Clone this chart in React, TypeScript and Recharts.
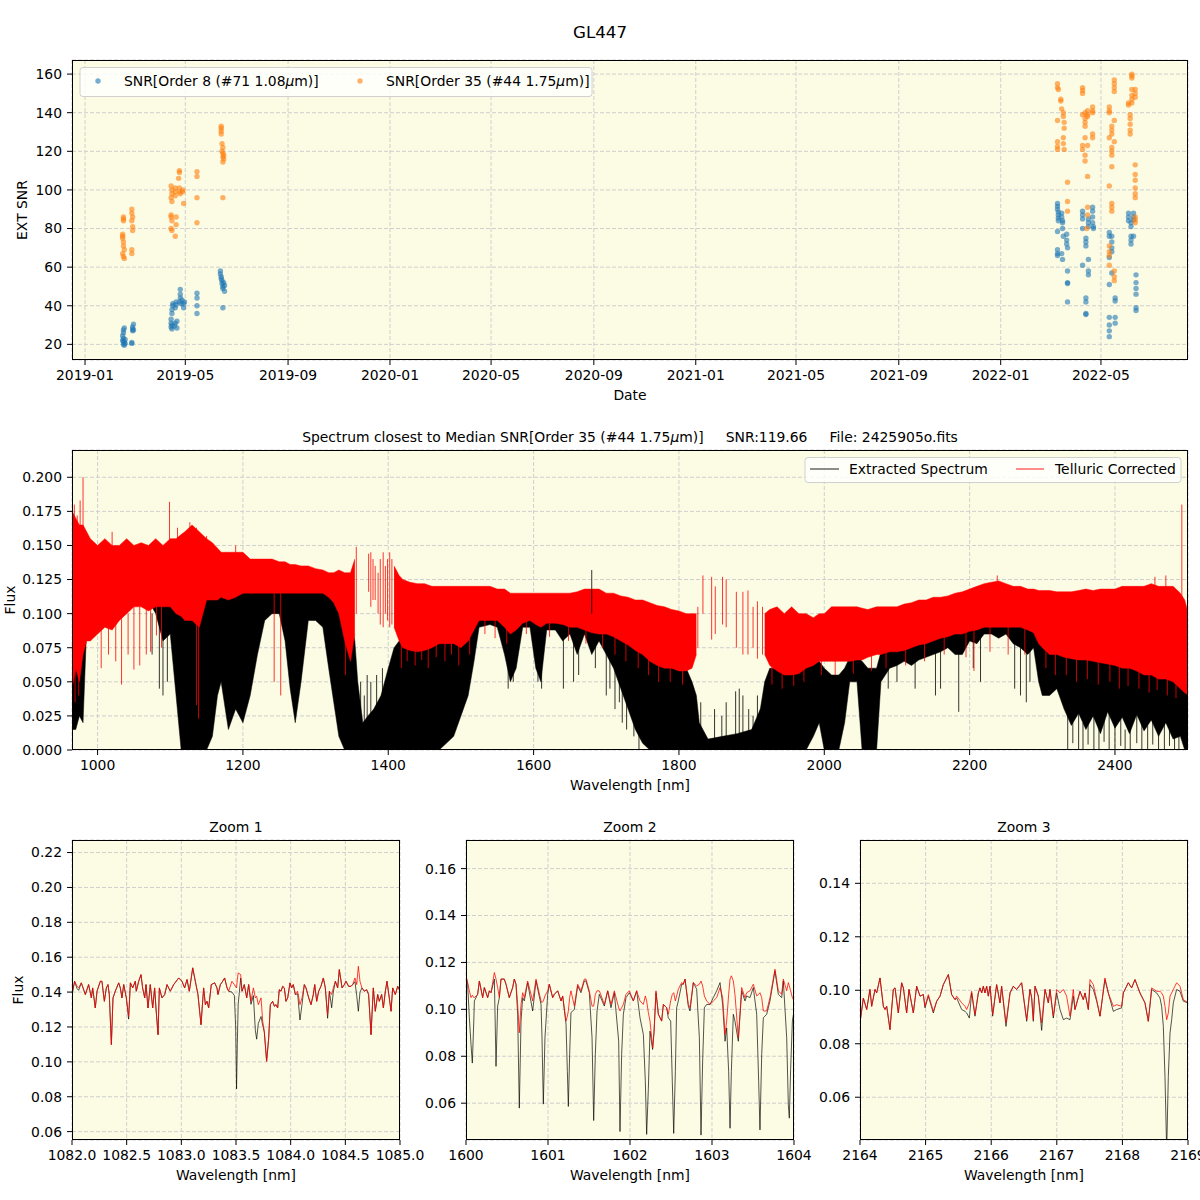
import React from 'react';
import {
  ScatterChart,
  Scatter,
  ComposedChart,
  LineChart,
  Line,
  Area,
  XAxis,
  YAxis,
  CartesianGrid,
} from 'recharts';

const FONT = '"DejaVu Sans", Verdana, sans-serif';
const BG = '#fcfce4';
const GRID = '#cfcfcf';
const BLUE = '#1f77b4';
const ORANGE = '#ff7f0e';
const TICK = { fontSize: 13.9, fill: '#000', fontFamily: FONT };

// ---- SNR time series: [date, SNR] ----
const snrOrder8: [string, number][] = [
  ['2019-02-15', 22], ['2019-02-15', 24.5], ['2019-02-16', 20], ['2019-02-16', 21.5], ['2019-02-16', 23], ['2019-02-16', 26],
  ['2019-02-16', 27.5], ['2019-02-17', 28.5], ['2019-02-17', 19.5], ['2019-02-17', 21], ['2019-02-18', 22.5], ['2019-02-18', 20.5],
  ['2019-02-26', 20.5], ['2019-02-26', 21], ['2019-02-27', 27], ['2019-02-27', 28], ['2019-02-27', 29], ['2019-02-28', 30.5], ['2019-02-28', 27.5],
  ['2019-04-14', 29], ['2019-04-14', 31], ['2019-04-14', 33], ['2019-04-15', 28], ['2019-04-15', 30], ['2019-04-15', 36], ['2019-04-15', 38],
  ['2019-04-16', 40], ['2019-04-16', 41], ['2019-04-18', 29.5], ['2019-04-19', 31], ['2019-04-19', 39], ['2019-04-20', 40.5], ['2019-04-20', 42],
  ['2019-04-21', 28.5], ['2019-04-21', 32], ['2019-04-24', 42], ['2019-04-25', 44], ['2019-04-25', 46], ['2019-04-25', 48.5], ['2019-04-26', 41],
  ['2019-04-27', 43], ['2019-04-29', 39], ['2019-04-29', 41], ['2019-04-30', 42],
  ['2019-05-15', 46.5], ['2019-05-15', 44], ['2019-05-15', 40], ['2019-05-15', 36],
  ['2019-06-12', 58], ['2019-06-12', 56.5], ['2019-06-13', 55], ['2019-06-13', 54], ['2019-06-14', 53], ['2019-06-14', 51.5], ['2019-06-15', 50],
  ['2019-06-15', 49], ['2019-06-16', 52], ['2019-06-15', 39], ['2019-06-17', 47.5], ['2019-06-17', 50.5],
  ['2022-03-10', 93], ['2022-03-10', 91.5], ['2022-03-10', 90], ['2022-03-11', 88.5], ['2022-03-11', 87], ['2022-03-11', 85.5], ['2022-03-11', 84],
  ['2022-03-10', 78.5], ['2022-03-10', 69], ['2022-03-10', 67], ['2022-03-10', 66],
  ['2022-03-15', 88], ['2022-03-15', 86], ['2022-03-16', 84], ['2022-03-16', 83], ['2022-03-16', 80], ['2022-03-15', 67], ['2022-03-16', 64], ['2022-03-17', 76],
  ['2022-03-21', 77], ['2022-03-21', 74], ['2022-03-21', 72], ['2022-03-22', 70], ['2022-03-22', 58], ['2022-03-22', 52], ['2022-03-22', 51.5], ['2022-03-22', 42],
  ['2022-04-09', 89], ['2022-04-09', 87], ['2022-04-09', 85], ['2022-04-09', 80], ['2022-04-09', 61],
  ['2022-04-13', 75], ['2022-04-13', 73], ['2022-04-13', 71], ['2022-04-13', 44], ['2022-04-13', 42], ['2022-04-13', 36], ['2022-04-13', 35.5],
  ['2022-04-16', 85], ['2022-04-16', 83], ['2022-04-16', 81], ['2022-04-16', 64], ['2022-04-16', 58], ['2022-04-16', 56],
  ['2022-04-21', 91], ['2022-04-21', 89], ['2022-04-21', 86], ['2022-04-21', 83], ['2022-04-22', 81], ['2022-04-22', 80],
  ['2022-05-11', 78], ['2022-05-11', 76], ['2022-05-11', 65], ['2022-05-11', 51], ['2022-05-11', 34], ['2022-05-11', 30], ['2022-05-11', 27], ['2022-05-11', 24],
  ['2022-05-14', 76], ['2022-05-14', 73], ['2022-05-14', 70], ['2022-05-14', 68], ['2022-05-14', 57],
  ['2022-05-18', 44], ['2022-05-18', 42.5], ['2022-05-18', 34], ['2022-05-18', 31],
  ['2022-06-03', 88], ['2022-06-03', 86], ['2022-06-03', 84], ['2022-06-06', 83], ['2022-06-06', 81], ['2022-06-06', 76], ['2022-06-06', 74], ['2022-06-06', 72],
  ['2022-06-09', 88], ['2022-06-09', 86], ['2022-06-09', 84.5], ['2022-06-09', 76],
  ['2022-06-12', 56], ['2022-06-12', 52], ['2022-06-12', 49], ['2022-06-12', 46], ['2022-06-12', 39], ['2022-06-12', 37.5],
];

const snrOrder35: [string, number][] = [
  ['2019-02-16', 86], ['2019-02-16', 85], ['2019-02-16', 84], ['2019-02-15', 77], ['2019-02-15', 76], ['2019-02-15', 75], ['2019-02-16', 73],
  ['2019-02-16', 71], ['2019-02-17', 69], ['2019-02-15', 67], ['2019-02-16', 65.5], ['2019-02-17', 64.5],
  ['2019-02-26', 90], ['2019-02-26', 88], ['2019-02-27', 86], ['2019-02-26', 84], ['2019-02-27', 81], ['2019-02-27', 79], ['2019-02-26', 69], ['2019-02-26', 67],
  ['2019-04-14', 87], ['2019-04-14', 86], ['2019-04-15', 84], ['2019-04-14', 80], ['2019-04-15', 79], ['2019-04-14', 102], ['2019-04-15', 100],
  ['2019-04-15', 98], ['2019-04-14', 96], ['2019-04-15', 94],
  ['2019-04-19', 101], ['2019-04-19', 99], ['2019-04-19', 97], ['2019-04-20', 86], ['2019-04-20', 82], ['2019-04-19', 76],
  ['2019-04-24', 110], ['2019-04-24', 109], ['2019-04-23', 106], ['2019-04-24', 101], ['2019-04-24', 99], ['2019-04-25', 98],
  ['2019-04-28', 100], ['2019-04-28', 99], ['2019-04-29', 93],
  ['2019-05-15', 109.5], ['2019-05-15', 107], ['2019-05-15', 96], ['2019-05-15', 83],
  ['2019-06-13', 133], ['2019-06-13', 132], ['2019-06-13', 130.5], ['2019-06-13', 129], ['2019-06-14', 124], ['2019-06-15', 122], ['2019-06-14', 120],
  ['2019-06-15', 119], ['2019-06-16', 118], ['2019-06-15', 117], ['2019-06-16', 116], ['2019-06-15', 114.5], ['2019-06-15', 96],
  ['2022-03-10', 155], ['2022-03-10', 153], ['2022-03-11', 152], ['2022-03-10', 136], ['2022-03-10', 125], ['2022-03-10', 122.5], ['2022-03-10', 121],
  ['2022-03-14', 147], ['2022-03-14', 146], ['2022-03-15', 142], ['2022-03-17', 140], ['2022-03-17', 138], ['2022-03-18', 135], ['2022-03-18', 132],
  ['2022-03-17', 127], ['2022-03-17', 124], ['2022-03-18', 121], ['2022-03-22', 104], ['2022-03-22', 94], ['2022-03-22', 89],
  ['2022-04-09', 153], ['2022-04-09', 151.5], ['2022-04-09', 150], ['2022-04-09', 139], ['2022-04-09', 123], ['2022-04-09', 121],
  ['2022-04-12', 140], ['2022-04-12', 137], ['2022-04-12', 135], ['2022-04-12', 133], ['2022-04-12', 127], ['2022-04-12', 118], ['2022-04-12', 115],
  ['2022-04-15', 141], ['2022-04-15', 139], ['2022-04-15', 138], ['2022-04-15', 123], ['2022-04-15', 107], ['2022-04-15', 91], ['2022-04-15', 87], ['2022-04-14', 80],
  ['2022-04-21', 143], ['2022-04-21', 141], ['2022-04-21', 140], ['2022-04-21', 129], ['2022-04-21', 127],
  ['2022-05-11', 143], ['2022-05-11', 141], ['2022-05-11', 140], ['2022-05-11', 127], ['2022-05-11', 102], ['2022-05-11', 71], ['2022-05-11', 68],
  ['2022-05-11', 66], ['2022-05-11', 61],
  ['2022-05-14', 133], ['2022-05-14', 131], ['2022-05-14', 129], ['2022-05-14', 122], ['2022-05-14', 120], ['2022-05-14', 118], ['2022-05-14', 112],
  ['2022-05-14', 93], ['2022-05-14', 91], ['2022-05-14', 89],
  ['2022-05-17', 157], ['2022-05-17', 155], ['2022-05-17', 153], ['2022-05-17', 151], ['2022-05-17', 136], ['2022-05-17', 125], ['2022-05-17', 58],
  ['2022-05-17', 55], ['2022-05-17', 53],
  ['2022-06-03', 145], ['2022-06-03', 144], ['2022-06-05', 139], ['2022-06-05', 137], ['2022-06-05', 134], ['2022-06-05', 131], ['2022-06-05', 129],
  ['2022-06-07', 160], ['2022-06-07', 159], ['2022-06-07', 158], ['2022-06-07', 152], ['2022-06-07', 149], ['2022-06-07', 147], ['2022-06-07', 145],
  ['2022-06-11', 152], ['2022-06-11', 150], ['2022-06-11', 148], ['2022-06-11', 113], ['2022-06-11', 108], ['2022-06-11', 105], ['2022-06-11', 101],
  ['2022-06-11', 98], ['2022-06-11', 96], ['2022-06-11', 86], ['2022-06-11', 84.5], ['2022-06-11', 83],
];

const dateTicks = [
  '2019-01-01', '2019-05-01', '2019-09-01', '2020-01-01', '2020-05-01', '2020-09-01',
  '2021-01-01', '2021-05-01', '2021-09-01', '2022-01-01', '2022-05-01',
];
const snrTicks = [20, 40, 60, 80, 100, 120, 140, 160];

// ---- full spectrum: [wl, red low, red high, black low, black high] envelopes ----
type Band = [number, number | null, number | null, number, number];
const spectrumBands: Band[] = [
  [965, 0.045, 0.175, 0.015, 0.14], [970, 0.06, 0.17, 0.015, 0.14], [975, 0.05, 0.165, 0.025, 0.13], [980, 0.07, 0.165, 0.02, 0.13],
  [985, 0.08, 0.16, 0.09, 0.13], [990, 0.08, 0.155, 0.105, 0.13], [1000, 0.085, 0.15, 0.105, 0.13], [1010, 0.09, 0.155, 0.11, 0.13],
  [1020, 0.088, 0.15, 0.11, 0.13], [1030, 0.095, 0.15, 0.112, 0.13], [1040, 0.1, 0.155, 0.112, 0.13], [1050, 0.105, 0.15, 0.115, 0.13],
  [1060, 0.105, 0.152, 0.115, 0.13], [1070, 0.102, 0.15, 0.11, 0.13], [1080, 0.105, 0.155, 0.1, 0.13], [1090, 0.105, 0.15, 0.08, 0.13],
  [1100, 0.105, 0.155, 0.085, 0.13], [1108, 0.1, 0.155, 0.04, 0.125], [1115, 0.098, 0.158, 0.0, 0.125], [1120, 0.095, 0.16, 0.0, 0.125],
  [1130, 0.095, 0.165, 0.0, 0.125], [1140, 0.09, 0.16, 0.0, 0.125], [1150, 0.11, 0.155, 0.0, 0.125], [1158, 0.11, 0.152, 0.01, 0.125],
  [1165, 0.11, 0.148, 0.04, 0.125], [1170, 0.112, 0.145, 0.05, 0.125], [1180, 0.11, 0.145, 0.015, 0.125], [1190, 0.112, 0.145, 0.03, 0.125],
  [1200, 0.115, 0.145, 0.02, 0.125], [1210, 0.115, 0.14, 0.04, 0.125], [1220, 0.115, 0.14, 0.07, 0.125], [1230, 0.115, 0.14, 0.095, 0.12],
  [1240, 0.115, 0.14, 0.1, 0.12], [1250, 0.115, 0.138, 0.1, 0.12], [1258, 0.115, 0.138, 0.08, 0.12], [1265, 0.115, 0.136, 0.045, 0.12],
  [1272, 0.115, 0.136, 0.02, 0.12], [1280, 0.115, 0.135, 0.05, 0.12], [1290, 0.115, 0.135, 0.095, 0.12], [1300, 0.115, 0.133, 0.095, 0.12],
  [1310, 0.115, 0.132, 0.09, 0.12], [1318, 0.112, 0.13, 0.06, 0.12], [1325, 0.108, 0.13, 0.035, 0.115], [1332, 0.1, 0.132, 0.01, 0.11],
  [1340, 0.08, 0.13, 0.0, 0.105], [1348, 0.065, 0.13, 0.0, 0.1], [1354, 0.085, 0.14, 0.0, 0.08], [1358, null, null, 0.0, 0.05],
  [1365, null, null, 0.0, 0.02], [1372, null, null, 0.0, 0.025], [1380, null, null, 0.0, 0.03], [1390, null, null, 0.0, 0.04],
  [1400, null, null, 0.0, 0.06], [1408, 0.09, 0.135, 0.0, 0.075], [1415, 0.08, 0.128, 0.0, 0.08], [1420, 0.075, 0.125, 0.0, 0.08],
  [1430, 0.073, 0.123, 0.0, 0.08], [1440, 0.072, 0.122, 0.0, 0.08], [1450, 0.073, 0.122, 0.0, 0.078], [1460, 0.075, 0.12, 0.0, 0.08],
  [1470, 0.078, 0.12, 0.0, 0.08], [1480, 0.078, 0.12, 0.005, 0.08], [1490, 0.078, 0.12, 0.01, 0.08], [1500, 0.075, 0.12, 0.025, 0.085],
  [1510, 0.08, 0.12, 0.04, 0.09], [1518, 0.088, 0.12, 0.065, 0.1], [1525, 0.095, 0.12, 0.09, 0.105], [1540, 0.095, 0.12, 0.092, 0.105],
  [1550, 0.095, 0.118, 0.09, 0.105], [1560, 0.09, 0.118, 0.07, 0.105], [1568, 0.085, 0.115, 0.05, 0.1], [1576, 0.088, 0.115, 0.06, 0.1],
  [1585, 0.093, 0.115, 0.09, 0.105], [1595, 0.095, 0.115, 0.09, 0.105], [1603, 0.092, 0.115, 0.06, 0.1], [1610, 0.09, 0.115, 0.05, 0.1],
  [1618, 0.093, 0.115, 0.088, 0.1], [1630, 0.093, 0.115, 0.088, 0.1], [1640, 0.092, 0.115, 0.08, 0.1], [1650, 0.09, 0.115, 0.085, 0.1],
  [1660, 0.09, 0.116, 0.07, 0.1], [1670, 0.088, 0.118, 0.085, 0.1], [1680, 0.086, 0.118, 0.07, 0.1], [1690, 0.085, 0.118, 0.08, 0.1],
  [1700, 0.085, 0.115, 0.07, 0.1], [1710, 0.083, 0.115, 0.06, 0.1], [1720, 0.08, 0.113, 0.045, 0.095], [1730, 0.077, 0.112, 0.03, 0.09],
  [1740, 0.073, 0.11, 0.015, 0.085], [1750, 0.07, 0.11, 0.005, 0.08], [1760, 0.065, 0.108, 0.0, 0.075], [1770, 0.062, 0.106, 0.0, 0.07],
  [1780, 0.06, 0.105, 0.0, 0.065], [1790, 0.06, 0.103, 0.0, 0.062], [1800, 0.058, 0.102, 0.0, 0.06], [1810, 0.058, 0.1, 0.0, 0.06],
  [1818, 0.06, 0.1, 0.0, 0.05], [1824, 0.07, 0.1, 0.0, 0.04], [1828, null, null, 0.0, 0.02], [1840, null, null, 0.0, 0.008],
  [1860, null, null, 0.0, 0.01], [1880, null, null, 0.0, 0.012], [1900, null, null, 0.0, 0.015], [1912, null, null, 0.0, 0.03],
  [1918, 0.07, 0.1, 0.0, 0.05], [1925, 0.062, 0.103, 0.0, 0.06], [1935, 0.058, 0.105, 0.0, 0.06], [1945, 0.055, 0.1, 0.0, 0.06],
  [1955, 0.055, 0.105, 0.0, 0.06], [1965, 0.056, 0.1, 0.0, 0.065], [1975, 0.06, 0.1, 0.0, 0.065], [1985, 0.062, 0.097, 0.01, 0.065],
  [1993, 0.065, 0.1, 0.02, 0.065], [2000, 0.065, 0.1, 0.0, 0.06], [2010, 0.065, 0.105, 0.0, 0.055], [2020, 0.065, 0.105, 0.0, 0.055],
  [2028, 0.065, 0.105, 0.02, 0.06], [2035, 0.065, 0.105, 0.05, 0.068], [2045, 0.066, 0.105, 0.05, 0.068], [2052, 0.066, 0.104, 0.0, 0.065],
  [2060, 0.068, 0.103, 0.0, 0.06], [2072, 0.07, 0.105, 0.0, 0.06], [2078, 0.07, 0.105, 0.05, 0.072], [2090, 0.072, 0.105, 0.06, 0.08],
  [2100, 0.072, 0.105, 0.062, 0.08], [2110, 0.073, 0.107, 0.065, 0.085], [2120, 0.075, 0.108, 0.062, 0.085], [2130, 0.077, 0.11, 0.066, 0.09],
  [2140, 0.078, 0.11, 0.068, 0.09], [2150, 0.08, 0.112, 0.07, 0.095], [2160, 0.082, 0.112, 0.072, 0.095], [2170, 0.083, 0.113, 0.075, 0.1],
  [2180, 0.085, 0.115, 0.07, 0.1], [2190, 0.085, 0.116, 0.07, 0.1], [2200, 0.087, 0.118, 0.08, 0.1], [2210, 0.088, 0.12, 0.078, 0.1],
  [2220, 0.09, 0.122, 0.085, 0.105], [2230, 0.09, 0.123, 0.085, 0.105], [2240, 0.09, 0.124, 0.082, 0.105], [2250, 0.09, 0.122, 0.085, 0.105],
  [2260, 0.09, 0.12, 0.078, 0.105], [2270, 0.09, 0.12, 0.075, 0.105], [2280, 0.088, 0.118, 0.07, 0.105], [2288, 0.086, 0.118, 0.075, 0.1],
  [2295, 0.078, 0.117, 0.05, 0.09], [2300, 0.075, 0.117, 0.04, 0.085], [2310, 0.07, 0.117, 0.04, 0.08], [2320, 0.07, 0.116, 0.045, 0.08],
  [2330, 0.068, 0.116, 0.03, 0.075], [2340, 0.067, 0.116, 0.018, 0.075], [2350, 0.066, 0.117, 0.027, 0.075], [2360, 0.066, 0.118, 0.015, 0.075],
  [2370, 0.065, 0.117, 0.025, 0.075], [2380, 0.064, 0.118, 0.012, 0.07], [2390, 0.063, 0.118, 0.028, 0.07], [2400, 0.062, 0.118, 0.016, 0.07],
  [2410, 0.06, 0.12, 0.024, 0.07], [2420, 0.06, 0.12, 0.012, 0.07], [2430, 0.058, 0.12, 0.026, 0.065], [2440, 0.055, 0.12, 0.014, 0.065],
  [2450, 0.055, 0.122, 0.022, 0.065], [2460, 0.052, 0.12, 0.01, 0.065], [2470, 0.052, 0.12, 0.02, 0.065], [2480, 0.05, 0.12, 0.008, 0.06],
  [2490, 0.045, 0.115, 0.01, 0.055], [2496, 0.042, 0.11, 0.0, 0.05], [2501, 0.04, 0.1, 0.0, 0.05],
];

// isolated lines: [wl, bottom, top]
const redSpikes: [number, number, number][] = [
  [968, 0.15, 0.18], [972, 0.15, 0.172], [976, 0.15, 0.183], [980, 0.14, 0.2], [1099, 0.14, 0.182], [1127, 0.15, 0.167], [1136, 0.15, 0.163],
  [1020, 0.145, 0.16], [1110, 0.15, 0.163], [1150, 0.148, 0.157], [1190, 0.14, 0.15], [2238, 0.118, 0.128], [2455, 0.116, 0.127], [2470, 0.116, 0.128],
  [969, 0.035, 0.07], [974, 0.04, 0.06], [1005, 0.06, 0.09], [1015, 0.07, 0.095], [1025, 0.065, 0.095], [1042, 0.07, 0.1], [1088, 0.075, 0.105],
  [1033, 0.048, 0.1], [1050, 0.059, 0.105], [1058, 0.062, 0.105], [1067, 0.07, 0.105], [1073, 0.072, 0.105], [1081, 0.084, 0.105],
  [1136, 0.033, 0.095], [1139, 0.023, 0.095], [1243, 0.05, 0.115], [1252, 0.04, 0.115], [1341, 0.055, 0.085],
  [1356, 0.1, 0.149], [1373, 0.116, 0.144], [1376, 0.105, 0.145], [1379, 0.11, 0.14], [1382, 0.11, 0.135], [1386, 0.1, 0.13],
  [1389, 0.092, 0.14], [1393, 0.09, 0.145], [1396, 0.1, 0.135], [1399, 0.095, 0.14], [1402, 0.09, 0.145], [1405, 0.092, 0.14],
  [1418, 0.06, 0.08], [1426, 0.065, 0.08], [1437, 0.062, 0.08], [1446, 0.066, 0.08], [1455, 0.06, 0.08], [1466, 0.068, 0.085],
  [1478, 0.065, 0.085], [1487, 0.07, 0.085], [1497, 0.062, 0.085], [1512, 0.07, 0.09],
  [1533, 0.085, 0.1], [1547, 0.082, 0.1], [1563, 0.078, 0.095], [1590, 0.085, 0.1], [1622, 0.083, 0.1], [1648, 0.08, 0.095],
  [1672, 0.078, 0.095], [1695, 0.075, 0.09], [1712, 0.07, 0.09], [1727, 0.065, 0.085], [1744, 0.06, 0.08], [1758, 0.055, 0.075],
  [1772, 0.05, 0.07], [1788, 0.05, 0.07], [1805, 0.048, 0.065],
  [1826, 0.075, 0.105], [1833, 0.1, 0.128], [1845, 0.081, 0.127], [1850, 0.085, 0.12], [1860, 0.092, 0.127], [1865, 0.09, 0.125],
  [1879, 0.075, 0.116], [1888, 0.07, 0.116], [1895, 0.07, 0.117], [1902, 0.075, 0.105], [1908, 0.067, 0.109], [1915, 0.07, 0.105],
  [1928, 0.048, 0.07], [1942, 0.045, 0.065], [1958, 0.047, 0.065], [1972, 0.05, 0.07], [1996, 0.055, 0.07], [2015, 0.055, 0.07],
  [2040, 0.056, 0.07], [2065, 0.058, 0.075], [2085, 0.06, 0.08], [2112, 0.062, 0.08], [2138, 0.065, 0.085], [2165, 0.07, 0.09],
  [2195, 0.068, 0.09], [2206, 0.058, 0.09], [2228, 0.072, 0.095], [2253, 0.07, 0.095], [2276, 0.07, 0.095],
  [2305, 0.06, 0.08], [2318, 0.055, 0.075], [2333, 0.055, 0.075], [2347, 0.05, 0.07], [2362, 0.052, 0.07], [2377, 0.048, 0.07],
  [2393, 0.05, 0.07], [2406, 0.045, 0.065], [2418, 0.047, 0.065], [2433, 0.045, 0.065], [2447, 0.042, 0.06], [2458, 0.044, 0.06],
  [2472, 0.04, 0.06], [2484, 0.038, 0.055], [2492, 0.1, 0.18],
];

const blackSpikes: [number, number, number][] = [
  [1075, 0.07, 0.1], [1085, 0.045, 0.1], [1090, 0.04, 0.1], [1096, 0.05, 0.1],
  [1362, 0.0, 0.05], [1367, 0.0, 0.04], [1371, 0.0, 0.055], [1376, 0.0, 0.05], [1384, 0.0, 0.055], [1392, 0.0, 0.06],
  [1565, 0.045, 0.085], [1572, 0.05, 0.085], [1606, 0.05, 0.085], [1611, 0.045, 0.085], [1641, 0.045, 0.085], [1655, 0.05, 0.085],
  [1662, 0.055, 0.085], [1685, 0.06, 0.085], [1680, 0.1, 0.132],
  [1700, 0.04, 0.083], [1705, 0.045, 0.083], [1712, 0.03, 0.08], [1718, 0.035, 0.08], [1722, 0.02, 0.078], [1728, 0.015, 0.075],
  [1733, 0.03, 0.075], [1738, 0.01, 0.07], [1745, 0.0, 0.07],
  [1830, 0.0, 0.035], [1849, 0.0, 0.03], [1859, 0.0, 0.025], [1865, 0.0, 0.035], [1878, 0.0, 0.043], [1883, 0.0, 0.045],
  [1888, 0.0, 0.04], [1896, 0.0, 0.03], [1902, 0.0, 0.025], [1908, 0.0, 0.04], [1912, 0.0, 0.03],
  [2088, 0.045, 0.07], [2100, 0.05, 0.07], [2125, 0.045, 0.07], [2153, 0.04, 0.078], [2160, 0.045, 0.078], [2185, 0.028, 0.08],
  [2205, 0.06, 0.085], [2215, 0.05, 0.085], [2262, 0.045, 0.085], [2270, 0.04, 0.085], [2278, 0.035, 0.085], [2283, 0.05, 0.085],
  [2335, 0, 0.03], [2342, 0.005, 0.025], [2350, 0, 0.03], [2356, 0, 0.02], [2363, 0.004, 0.03], [2371, 0, 0.025], [2378, 0, 0.02],
  [2385, 0.006, 0.03], [2392, 0, 0.028], [2400, 0, 0.02], [2408, 0.003, 0.025], [2414, 0, 0.015], [2421, 0, 0.025], [2430, 0.005, 0.03],
  [2437, 0, 0.02], [2445, 0, 0.018], [2452, 0.004, 0.025], [2460, 0, 0.015], [2468, 0, 0.022], [2475, 0.003, 0.02], [2482, 0, 0.012], [2488, 0, 0.015],
];

const specXTicks = [1000, 1200, 1400, 1600, 1800, 2000, 2200, 2400];
const specYTicks = [0, 0.025, 0.05, 0.075, 0.1, 0.125, 0.15, 0.175, 0.2];

// ---- zoom windows: [wl, telluric corrected, extracted] ----
const zoom1: [number, number, number][] = [
  [1082.0, 0.1386, 0.1386], [1082.024, 0.1462, 0.1462], [1082.046, 0.1433, 0.142], [1082.061, 0.1424, 0.141], [1082.085, 0.1453, 0.1453],
  [1082.122, 0.1386, 0.1386], [1082.152, 0.1443, 0.1443], [1082.177, 0.1367, 0.1367], [1082.189, 0.1424, 0.1424], [1082.213, 0.1309, 0.1309],
  [1082.229, 0.1405, 0.1405], [1082.259, 0.1462, 0.1462], [1082.274, 0.1462, 0.1462], [1082.296, 0.1347, 0.1347], [1082.314, 0.1424, 0.1424],
  [1082.329, 0.1443, 0.1443], [1082.341, 0.1386, 0.1386], [1082.36, 0.1099, 0.1099], [1082.375, 0.1367, 0.1367], [1082.396, 0.1405, 0.1405],
  [1082.427, 0.1453, 0.1453], [1082.442, 0.1424, 0.1424], [1082.457, 0.1367, 0.1367], [1082.473, 0.1443, 0.1443], [1082.497, 0.1367, 0.1367],
  [1082.518, 0.126, 0.1245], [1082.534, 0.1453, 0.1453], [1082.555, 0.1424, 0.1424], [1082.579, 0.1462, 0.1462], [1082.588, 0.1405, 0.1405],
  [1082.61, 0.1462, 0.1462], [1082.631, 0.15, 0.15], [1082.646, 0.1424, 0.1424], [1082.665, 0.1367, 0.1367], [1082.677, 0.1443, 0.1443],
  [1082.695, 0.1309, 0.1309], [1082.716, 0.1443, 0.1443], [1082.738, 0.1309, 0.1309], [1082.756, 0.1424, 0.1424], [1082.768, 0.1309, 0.1309],
  [1082.787, 0.1156, 0.1156], [1082.799, 0.1424, 0.1424], [1082.823, 0.1367, 0.1367], [1082.848, 0.1386, 0.1386], [1082.869, 0.1443, 0.1443],
  [1082.899, 0.1405, 0.1405], [1082.93, 0.1443, 0.1443], [1082.976, 0.1481, 0.1481], [1083.006, 0.1462, 0.1462], [1083.03, 0.1424, 0.1424],
  [1083.052, 0.1472, 0.1472], [1083.073, 0.1405, 0.1405], [1083.104, 0.1539, 0.1539], [1083.134, 0.1443, 0.1443], [1083.152, 0.1386, 0.1386],
  [1083.18, 0.1213, 0.1213], [1083.204, 0.1424, 0.1424], [1083.22, 0.1328, 0.1328], [1083.235, 0.1347, 0.1347], [1083.25, 0.1309, 0.1309],
  [1083.274, 0.1443, 0.1443], [1083.305, 0.1453, 0.1453], [1083.326, 0.1424, 0.1424], [1083.335, 0.1386, 0.1386], [1083.357, 0.1443, 0.1443],
  [1083.378, 0.1462, 0.1462], [1083.396, 0.1481, 0.1481], [1083.418, 0.1424, 0.1424], [1083.433, 0.1405, 0.1405], [1083.463, 0.1462, 0.14],
  [1083.485, 0.1443, 0.138], [1083.497, 0.143, 0.12], [1083.505, 0.1424, 0.0845], [1083.512, 0.147, 0.11], [1083.52, 0.151, 0.133],
  [1083.543, 0.15, 0.148], [1083.555, 0.1405, 0.1405], [1083.576, 0.1443, 0.1443], [1083.598, 0.1367, 0.1367], [1083.616, 0.1443, 0.1443],
  [1083.637, 0.1347, 0.133], [1083.659, 0.1424, 0.138], [1083.677, 0.1367, 0.118], [1083.689, 0.1376, 0.113], [1083.704, 0.1328, 0.122],
  [1083.729, 0.1367, 0.126], [1083.744, 0.1233, 0.121], [1083.759, 0.1175, 0.117], [1083.78, 0.1003, 0.1003], [1083.799, 0.1137, 0.1137],
  [1083.814, 0.1328, 0.1328], [1083.835, 0.1347, 0.1347], [1083.851, 0.1319, 0.1319], [1083.866, 0.1328, 0.1328], [1083.881, 0.1309, 0.1309],
  [1083.896, 0.1414, 0.1414], [1083.912, 0.1405, 0.1405], [1083.927, 0.1433, 0.1433], [1083.942, 0.1424, 0.1424], [1083.957, 0.1347, 0.1347],
  [1083.973, 0.1367, 0.1367], [1083.994, 0.1453, 0.1453], [1084.009, 0.1424, 0.1424], [1084.024, 0.1443, 0.1443], [1084.043, 0.1386, 0.1386],
  [1084.064, 0.1405, 0.139], [1084.085, 0.1328, 0.124], [1084.104, 0.1367, 0.133], [1084.125, 0.1443, 0.1443], [1084.14, 0.1424, 0.1424],
  [1084.165, 0.1367, 0.1367], [1084.186, 0.1328, 0.1328], [1084.207, 0.1386, 0.1386], [1084.22, 0.1443, 0.1443], [1084.238, 0.1347, 0.1347],
  [1084.256, 0.1405, 0.1405], [1084.277, 0.1433, 0.1433], [1084.299, 0.1481, 0.1481], [1084.317, 0.1424, 0.1424], [1084.338, 0.1271, 0.125],
  [1084.354, 0.1405, 0.1405], [1084.375, 0.1386, 0.131], [1084.39, 0.1424, 0.14], [1084.409, 0.1462, 0.1462], [1084.43, 0.1424, 0.1424],
  [1084.445, 0.1529, 0.1529], [1084.47, 0.1424, 0.1424], [1084.491, 0.1443, 0.1443], [1084.506, 0.1462, 0.1462], [1084.53, 0.1433, 0.1433],
  [1084.552, 0.1433, 0.1433], [1084.567, 0.1443, 0.1443], [1084.588, 0.1481, 0.146], [1084.604, 0.1443, 0.138], [1084.619, 0.1548, 0.129],
  [1084.634, 0.1462, 0.14], [1084.652, 0.1424, 0.1424], [1084.674, 0.1405, 0.1405], [1084.695, 0.1414, 0.1414], [1084.713, 0.1386, 0.1386],
  [1084.735, 0.1156, 0.1156], [1084.756, 0.1424, 0.1424], [1084.774, 0.129, 0.129], [1084.796, 0.1386, 0.1386], [1084.811, 0.1347, 0.1347],
  [1084.832, 0.1386, 0.1386], [1084.848, 0.1309, 0.1309], [1084.866, 0.1405, 0.1405], [1084.881, 0.1462, 0.1462], [1084.902, 0.1367, 0.1367],
  [1084.918, 0.129, 0.129], [1084.933, 0.1424, 0.1424], [1084.957, 0.1386, 0.1386], [1084.979, 0.1433, 0.1433], [1085.0, 0.1405, 0.1405],
];

const zoom2: [number, number, number][] = [
  [1600.0, 0.1143, 0.1143], [1600.02, 0.1114, 0.1107], [1600.041, 0.1079, 0.0964], [1600.061, 0.105, 0.085], [1600.077, 0.106, 0.0771],
  [1600.095, 0.105, 0.095], [1600.102, 0.105, 0.1036], [1600.142, 0.1064, 0.1064], [1600.163, 0.1121, 0.1121], [1600.203, 0.105, 0.105],
  [1600.224, 0.1093, 0.1093], [1600.264, 0.105, 0.105], [1600.285, 0.1079, 0.1079], [1600.305, 0.1071, 0.1071], [1600.346, 0.1157, 0.1129],
  [1600.366, 0.1129, 0.0757], [1600.386, 0.1093, 0.1014], [1600.407, 0.105, 0.105], [1600.427, 0.1129, 0.1129], [1600.467, 0.1129, 0.1129],
  [1600.488, 0.1107, 0.1107], [1600.528, 0.105, 0.105], [1600.569, 0.1093, 0.1093], [1600.589, 0.1129, 0.1129], [1600.61, 0.1107, 0.1107],
  [1600.63, 0.1021, 0.0979], [1600.65, 0.09, 0.0579], [1600.671, 0.1021, 0.095], [1600.691, 0.1071, 0.105], [1600.711, 0.105, 0.1036],
  [1600.752, 0.1121, 0.1114], [1600.813, 0.1036, 0.0993], [1600.854, 0.1129, 0.1121], [1600.915, 0.1036, 0.1021], [1600.927, 0.1029, 0.0879],
  [1600.943, 0.1036, 0.0596], [1600.963, 0.1057, 0.0879], [1600.996, 0.1079, 0.1064], [1601.016, 0.1107, 0.1107], [1601.057, 0.105, 0.105],
  [1601.077, 0.1064, 0.1064], [1601.118, 0.1079, 0.1079], [1601.159, 0.1036, 0.1036], [1601.179, 0.1057, 0.1057], [1601.22, 0.095, 0.0936],
  [1601.236, 0.0971, 0.0736], [1601.248, 0.0993, 0.0586], [1601.264, 0.105, 0.0807], [1601.28, 0.1079, 0.0986], [1601.321, 0.1014, 0.1],
  [1601.362, 0.1107, 0.11], [1601.402, 0.1079, 0.1071], [1601.443, 0.1129, 0.1121], [1601.463, 0.1129, 0.1121], [1601.504, 0.1079, 0.1071],
  [1601.537, 0.1014, 0.0879], [1601.557, 0.1014, 0.0526], [1601.577, 0.1064, 0.0807], [1601.598, 0.1079, 0.0993], [1601.626, 0.1079, 0.1064],
  [1601.687, 0.1021, 0.1014], [1601.728, 0.1079, 0.1079], [1601.768, 0.1021, 0.1007], [1601.809, 0.1079, 0.1071], [1601.862, 0.1007, 0.0864],
  [1601.878, 0.0993, 0.0479], [1601.898, 0.1007, 0.0807], [1601.919, 0.1021, 0.0979], [1601.951, 0.1064, 0.105], [1601.992, 0.1079, 0.1071],
  [1602.041, 0.1036, 0.1036], [1602.081, 0.1079, 0.1079], [1602.122, 0.1036, 0.0964], [1602.163, 0.1021, 0.0893], [1602.187, 0.1057, 0.0693],
  [1602.203, 0.1036, 0.0467], [1602.224, 0.0986, 0.0664], [1602.244, 0.095, 0.0907], [1602.276, 0.0836, 0.0829], [1602.293, 0.0907, 0.09],
  [1602.317, 0.1079, 0.1071], [1602.346, 0.0979, 0.0979], [1602.386, 0.095, 0.095], [1602.407, 0.1021, 0.1021], [1602.447, 0.1007, 0.1007],
  [1602.467, 0.0979, 0.0964], [1602.496, 0.1036, 0.095], [1602.516, 0.1064, 0.0693], [1602.533, 0.1071, 0.0471], [1602.553, 0.1036, 0.0736],
  [1602.569, 0.1057, 0.1007], [1602.589, 0.1086, 0.1036], [1602.63, 0.1114, 0.1107], [1602.65, 0.1107, 0.1107], [1602.671, 0.1129, 0.1129],
  [1602.711, 0.1021, 0.1014], [1602.732, 0.1007, 0.0993], [1602.772, 0.1114, 0.1114], [1602.813, 0.11, 0.1086], [1602.846, 0.1107, 0.0879],
  [1602.866, 0.1121, 0.0464], [1602.886, 0.11, 0.0779], [1602.907, 0.1057, 0.1007], [1602.935, 0.1036, 0.1021], [1602.976, 0.1021, 0.1021],
  [1603.016, 0.1036, 0.105], [1603.057, 0.105, 0.1079], [1603.098, 0.1093, 0.1114], [1603.13, 0.105, 0.1021], [1603.159, 0.0893, 0.0864],
  [1603.179, 0.095, 0.0921], [1603.203, 0.1064, 0.0736], [1603.22, 0.1129, 0.0493], [1603.236, 0.1143, 0.0736], [1603.26, 0.1121, 0.0979],
  [1603.28, 0.1064, 0.095], [1603.321, 0.0879, 0.0864], [1603.341, 0.0979, 0.0971], [1603.362, 0.1093, 0.1079], [1603.402, 0.105, 0.1036],
  [1603.423, 0.1071, 0.1057], [1603.463, 0.1079, 0.105], [1603.504, 0.1107, 0.1093], [1603.545, 0.1057, 0.0979], [1603.569, 0.1064, 0.0693],
  [1603.585, 0.1071, 0.0486], [1603.606, 0.105, 0.0807], [1603.626, 0.0993, 0.0964], [1603.667, 0.0993, 0.0979], [1603.707, 0.105, 0.1036],
  [1603.768, 0.1171, 0.1164], [1603.809, 0.1079, 0.1064], [1603.85, 0.1064, 0.105], [1603.87, 0.1129, 0.1121], [1603.911, 0.1079, 0.0879],
  [1603.931, 0.1114, 0.0593], [1603.943, 0.11, 0.0536], [1603.959, 0.1079, 0.0743], [1603.98, 0.105, 0.095], [1604.0, 0.1036, 0.0993],
];

const zoom3: [number, number, number][] = [
  [2164.0, 0.0878, 0.0878], [2164.051, 0.0971, 0.0971], [2164.102, 0.0928, 0.0928], [2164.152, 0.1003, 0.1003], [2164.178, 0.094, 0.094],
  [2164.229, 0.1003, 0.1003], [2164.254, 0.099, 0.099], [2164.305, 0.1046, 0.1046], [2164.356, 0.094, 0.094], [2164.381, 0.0928, 0.0928],
  [2164.407, 0.094, 0.094], [2164.457, 0.0853, 0.0853], [2164.508, 0.1003, 0.1003], [2164.534, 0.1009, 0.1009], [2164.584, 0.0915, 0.0915],
  [2164.635, 0.1028, 0.1028], [2164.661, 0.1009, 0.1009], [2164.711, 0.0915, 0.0915], [2164.747, 0.1003, 0.1003], [2164.813, 0.0915, 0.0915],
  [2164.864, 0.1015, 0.1015], [2164.915, 0.0978, 0.0978], [2164.965, 0.0984, 0.0984], [2164.991, 0.094, 0.0934], [2165.042, 0.0984, 0.0978],
  [2165.118, 0.0921, 0.0915], [2165.169, 0.0959, 0.0959], [2165.22, 0.0978, 0.0978], [2165.27, 0.1021, 0.1021], [2165.347, 0.1059, 0.1059],
  [2165.397, 0.0984, 0.0984], [2165.448, 0.0965, 0.0965], [2165.474, 0.0978, 0.0971], [2165.55, 0.0953, 0.0928], [2165.601, 0.094, 0.0921],
  [2165.626, 0.0928, 0.0915], [2165.667, 0.0953, 0.0896], [2165.702, 0.0996, 0.099], [2165.753, 0.0909, 0.0903], [2165.804, 0.099, 0.099],
  [2165.829, 0.1009, 0.1009], [2165.855, 0.099, 0.099], [2165.88, 0.1015, 0.1015], [2165.905, 0.099, 0.099], [2165.931, 0.1015, 0.1015],
  [2165.956, 0.0978, 0.0978], [2165.982, 0.1015, 0.1015], [2166.022, 0.0909, 0.0903], [2166.083, 0.1021, 0.1021], [2166.134, 0.0953, 0.0953],
  [2166.159, 0.1015, 0.1015], [2166.226, 0.0878, 0.0865], [2166.287, 0.099, 0.099], [2166.337, 0.1015, 0.1015], [2166.388, 0.1003, 0.1003],
  [2166.464, 0.1028, 0.1028], [2166.541, 0.089, 0.0884], [2166.591, 0.1003, 0.1003], [2166.617, 0.0971, 0.0971], [2166.642, 0.089, 0.0884],
  [2166.668, 0.1015, 0.1015], [2166.718, 0.0978, 0.0978], [2166.769, 0.0878, 0.085], [2166.82, 0.1003, 0.1003], [2166.871, 0.0953, 0.0953],
  [2166.896, 0.1003, 0.1003], [2166.947, 0.0903, 0.0896], [2166.998, 0.1003, 0.099], [2167.049, 0.099, 0.0928], [2167.1, 0.1003, 0.089],
  [2167.15, 0.0978, 0.0896], [2167.201, 0.0903, 0.089], [2167.252, 0.1003, 0.0978], [2167.277, 0.0928, 0.0928], [2167.354, 0.0996, 0.0996],
  [2167.404, 0.0965, 0.0965], [2167.43, 0.099, 0.099], [2167.481, 0.0928, 0.0928], [2167.506, 0.104, 0.1021], [2167.557, 0.1021, 0.1003],
  [2167.608, 0.0965, 0.0959], [2167.659, 0.0903, 0.0903], [2167.734, 0.1046, 0.104], [2167.785, 0.099, 0.099], [2167.862, 0.094, 0.0921],
  [2167.913, 0.0946, 0.0928], [2167.988, 0.094, 0.0934], [2168.014, 0.099, 0.099], [2168.09, 0.1028, 0.1028], [2168.141, 0.1009, 0.1009],
  [2168.192, 0.104, 0.104], [2168.268, 0.099, 0.099], [2168.344, 0.0953, 0.0953], [2168.395, 0.0884, 0.0884], [2168.446, 0.1009, 0.1003],
  [2168.522, 0.0996, 0.099], [2168.573, 0.0996, 0.0971], [2168.598, 0.099, 0.094], [2168.624, 0.0978, 0.0865], [2168.649, 0.094, 0.0678],
  [2168.675, 0.089, 0.04], [2168.7, 0.0915, 0.0678], [2168.726, 0.0978, 0.084], [2168.751, 0.099, 0.089], [2168.776, 0.1003, 0.0953],
  [2168.827, 0.1028, 0.1003], [2168.878, 0.1015, 0.0996], [2168.929, 0.0965, 0.0959], [2169.0, 0.0953, 0.0953],
];

const zoom1XTicks = [1082, 1082.5, 1083, 1083.5, 1084, 1084.5, 1085];
const zoom1YTicks = [0.06, 0.08, 0.1, 0.12, 0.14, 0.16, 0.18, 0.2, 0.22];
const zoom2XTicks = [1600, 1601, 1602, 1603, 1604];
const zoom2YTicks = [0.06, 0.08, 0.1, 0.12, 0.14, 0.16];
const zoom3XTicks = [2164, 2165, 2166, 2167, 2168, 2169];
const zoom3YTicks = [0.06, 0.08, 0.1, 0.12, 0.14];

// ---- layout ----
type Box = { x: number; y: number; w: number; h: number };
const snrBox: Box = { x: 72, y: 60, w: 1116, h: 300 };
const specBox: Box = { x: 72, y: 450, w: 1116, h: 300 };
const zBoxes: Box[] = [
  { x: 72, y: 840, w: 328, h: 300 },
  { x: 466, y: 840, w: 328, h: 300 },
  { x: 860, y: 840, w: 328, h: 300 },
];
const PL = 70, PT = 12, PR = 30, PB = 40;

const place = (b: Box): React.CSSProperties => ({ position: 'absolute', left: b.x - PL, top: b.y - PT });
const dims = (b: Box) => ({
  width: b.w + PL + PR,
  height: b.h + PT + PB,
  margin: { top: PT, right: PR, left: 0, bottom: 0 },
});

const axisBase = {
  type: 'number' as const,
  allowDataOverflow: true,
  axisLine: false,
  tickLine: { stroke: '#000' },
  tickSize: 5,
  tickMargin: 5,
  tick: TICK,
  interval: 0 as const,
};
const xAx = { ...axisBase, height: PB };
const yAx = { ...axisBase, width: PL };

const DAY0 = Date.UTC(2019, 0, 1);
const toDay = (s: string) => (Date.parse(s + 'T00:00:00Z') - DAY0) / 86400000;
const fmtDate = (d: number) => new Date(DAY0 + Math.round(d) * 86400000).toISOString().slice(0, 7);

const order8Pts = snrOrder8.map(([d, v]) => ({ x: toDay(d), y: v }));
const order35Pts = snrOrder35.map(([d, v]) => ({ x: toDay(d), y: v }));
const dateTickDays = dateTicks.map(toDay);

const bandRows = spectrumBands.map(([wl, rl, rh, bl, bh]) => ({
  wl,
  red: rl == null || rh == null ? null : [rl, rh],
  black: [bl, bh],
}));
const spikeRows = (s: [number, number, number][]) =>
  s.flatMap(([wl, lo, hi]) => [{ wl, v: lo }, { wl, v: hi }, { wl, v: null }]);
const redSpikeRows = spikeRows(redSpikes);
const blackSpikeRows = spikeRows(blackSpikes);

const zoomRows = (z: [number, number, number][]) => z.map(([wl, red, black]) => ({ wl, red, black }));

const dot = (color: string) => (p: any) => (
  <circle cx={p.cx} cy={p.cy} r={2.7} fill={color} fillOpacity={0.6} />
);

function ZoomPanel({ box, rows, xTicks, yTicks, yDomain, xFmt }: {
  box: Box; rows: [number, number, number][]; xTicks: number[]; yTicks: number[]; yDomain: [number, number]; xFmt: (v: number) => string;
}) {
  return (
    <div style={place(box)}>
      <LineChart {...dims(box)} data={zoomRows(rows)}>
        <CartesianGrid fill={BG} fillOpacity={1} stroke={GRID} strokeDasharray="4 2" />
        <XAxis dataKey="wl" domain={[xTicks[0], xTicks[xTicks.length - 1]]} ticks={xTicks} tickFormatter={xFmt} {...xAx} />
        <YAxis domain={yDomain} ticks={yTicks} tickFormatter={(v: number) => v.toFixed(2)} {...yAx} />
        <Line dataKey="black" stroke="#000" strokeOpacity={0.75} strokeWidth={0.9} dot={false} activeDot={false} isAnimationActive={false} />
        <Line dataKey="red" stroke="#ff0000" strokeOpacity={0.85} strokeWidth={0.9} dot={false} activeDot={false} isAnimationActive={false} />
      </LineChart>
    </div>
  );
}

const frame = (b: Box, k: string) => (
  <rect key={k} x={b.x + 0.5} y={b.y + 0.5} width={b.w - 1} height={b.h - 1} fill="none" stroke="#000" strokeWidth={1} />
);

export default function App() {
  const txt = { fontFamily: FONT, fontSize: 13.9, fill: '#000' };
  return (
    <div style={{ position: 'absolute', left: 0, top: 0, width: 1200, height: 1200, background: '#fff', overflow: 'hidden' }}>
      <div style={place(snrBox)}>
        <ScatterChart {...dims(snrBox)}>
          <CartesianGrid fill={BG} fillOpacity={1} stroke={GRID} strokeDasharray="4 2" />
          <XAxis dataKey="x" domain={[-15.6, 1320.2]} ticks={dateTickDays} tickFormatter={fmtDate} {...xAx} />
          <YAxis dataKey="y" domain={[11.9, 167.3]} ticks={snrTicks} {...yAx} />
          <Scatter data={order8Pts} shape={dot(BLUE)} isAnimationActive={false} />
          <Scatter data={order35Pts} shape={dot(ORANGE)} isAnimationActive={false} />
        </ScatterChart>
      </div>

      <div style={place(specBox)}>
        <ComposedChart {...dims(specBox)} data={bandRows}>
          <CartesianGrid fill={BG} fillOpacity={1} stroke={GRID} strokeDasharray="4 2" />
          <XAxis dataKey="wl" domain={[964.8, 2500.5]} ticks={specXTicks} {...xAx} />
          <YAxis domain={[0, 0.22]} ticks={specYTicks} tickFormatter={(v: number) => v.toFixed(3)} {...yAx} />
          <Area dataKey="black" type="linear" fill="#000" fillOpacity={1} stroke="#000" strokeWidth={0.5}
            dot={false} activeDot={false} connectNulls={false} isAnimationActive={false} />
          <Line data={blackSpikeRows} dataKey="v" type="linear" stroke="#000" strokeWidth={0.8}
            dot={false} activeDot={false} connectNulls={false} isAnimationActive={false} />
          <Area dataKey="red" type="linear" fill="#ff0000" fillOpacity={1} stroke="#ff0000" strokeWidth={0.5}
            dot={false} activeDot={false} connectNulls={false} isAnimationActive={false} />
          <Line data={redSpikeRows} dataKey="v" type="linear" stroke="#ff0000" strokeWidth={0.8}
            dot={false} activeDot={false} connectNulls={false} isAnimationActive={false} />
        </ComposedChart>
      </div>

      <ZoomPanel box={zBoxes[0]} rows={zoom1} xTicks={zoom1XTicks} yTicks={zoom1YTicks} yDomain={[0.0552, 0.2272]} xFmt={(v) => v.toFixed(1)} />
      <ZoomPanel box={zBoxes[1]} rows={zoom2} xTicks={zoom2XTicks} yTicks={zoom2YTicks} yDomain={[0.0443, 0.1722]} xFmt={(v) => String(v)} />
      <ZoomPanel box={zBoxes[2]} rows={zoom3} xTicks={zoom3XTicks} yTicks={zoom3YTicks} yDomain={[0.044, 0.1562]} xFmt={(v) => String(v)} />

      <svg width={1200} height={1200} style={{ position: 'absolute', left: 0, top: 0, pointerEvents: 'none' }}>
        {frame(snrBox, 'f0')}
        {frame(specBox, 'f1')}
        {zBoxes.map((b, i) => frame(b, 'z' + i))}

        <text x={600} y={32} textAnchor="middle" dominantBaseline="central" {...txt} fontSize={16.7}>GL447</text>

        <rect x={80} y={67.5} width={512} height={29} rx={3} fill="#fff" fillOpacity={0.8} stroke="#d0d0d0" />
        <circle cx={98} cy={81} r={2.7} fill={BLUE} fillOpacity={0.6} />
        <text x={124} y={81} dominantBaseline="central" {...txt}>
          SNR[Order 8 (#71 1.08<tspan fontStyle="italic">μ</tspan>m)]
        </text>
        <circle cx={360} cy={81} r={2.7} fill={ORANGE} fillOpacity={0.6} />
        <text x={386} y={81} dominantBaseline="central" {...txt}>
          SNR[Order 35 (#44 1.75<tspan fontStyle="italic">μ</tspan>m)]
        </text>
        <text x={630} y={395} textAnchor="middle" dominantBaseline="central" {...txt}>Date</text>
        <text transform="translate(22,210) rotate(-90)" textAnchor="middle" dominantBaseline="central" {...txt}>EXT SNR</text>

        <text x={630} y={437} textAnchor="middle" dominantBaseline="central" {...txt} style={{ whiteSpace: 'pre' }}>
          Spectrum closest to Median SNR[Order 35 (#44 1.75<tspan fontStyle="italic">μ</tspan>m)]{'     '}SNR:119.66{'     '}File: 2425905o.fits
        </text>
        <rect x={805} y={457.5} width={376} height={25} rx={3} fill="#fff" fillOpacity={0.8} stroke="#d0d0d0" />
        <line x1={810} y1={469} x2={839} y2={469} stroke="#000" strokeWidth={0.9} />
        <text x={849} y={469} dominantBaseline="central" {...txt}>Extracted Spectrum</text>
        <line x1={1016} y1={469} x2={1044} y2={469} stroke="#ff0000" strokeWidth={0.9} />
        <text x={1055} y={469} dominantBaseline="central" {...txt}>Telluric Corrected</text>
        <text x={630} y={785} textAnchor="middle" dominantBaseline="central" {...txt}>Wavelength [nm]</text>
        <text transform="translate(10,600) rotate(-90)" textAnchor="middle" dominantBaseline="central" {...txt}>Flux</text>

        {zBoxes.map((b, i) => (
          <g key={'zl' + i}>
            <text x={b.x + b.w / 2} y={827} textAnchor="middle" dominantBaseline="central" {...txt}>{`Zoom ${i + 1}`}</text>
            <text x={b.x + b.w / 2} y={1175} textAnchor="middle" dominantBaseline="central" {...txt}>Wavelength [nm]</text>
          </g>
        ))}
        <text transform="translate(18,990) rotate(-90)" textAnchor="middle" dominantBaseline="central" {...txt}>Flux</text>
      </svg>
    </div>
  );
}
